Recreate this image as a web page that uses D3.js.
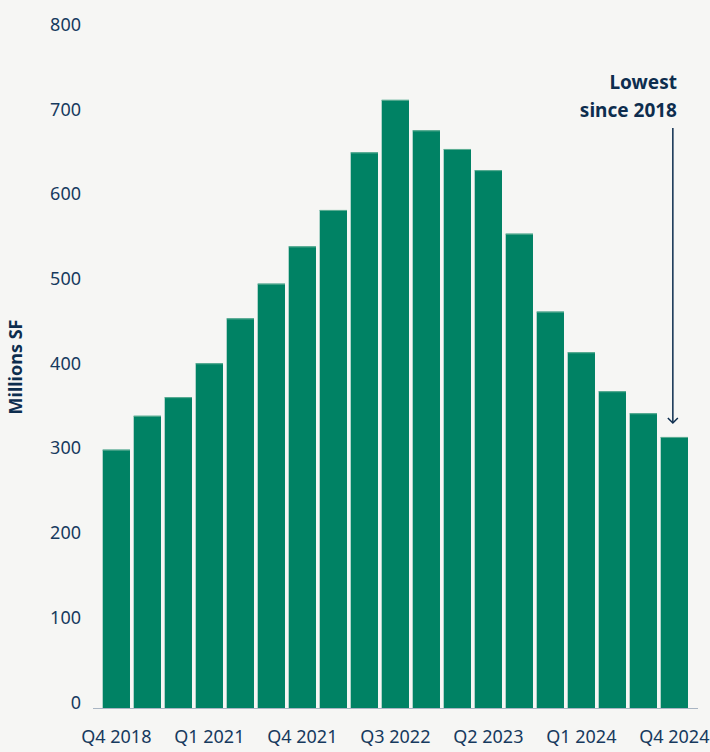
<!DOCTYPE html>
<html>
<head>
<meta charset="utf-8">
<script src="https://cdn.jsdelivr.net/npm/d3@7"></script>
<style>
  body { margin: 0; background: #f6f6f4; }
  svg { display: block; font-family: "Noto Sans", "Open Sans", sans-serif; }
</style>
</head>
<body>
<svg id="chart" width="710" height="752"></svg>
<script>
// quarters shown on the x axis (every bar), labels only every third one
const quarters = [
  "Q4 2018", "Q4 2019", "Q4 2020", "Q1 2021", "Q2 2021", "Q3 2021", "Q4 2021",
  "Q1 2022", "Q2 2022", "Q3 2022", "Q4 2022", "Q1 2023", "Q2 2023", "Q3 2023",
  "Q4 2023", "Q1 2024", "Q2 2024", "Q3 2024", "Q4 2024"
];
// millions of square feet
const values = [305, 345, 367, 407, 460, 501, 545, 588, 656, 718, 682, 660, 635, 560, 468, 420, 374, 348, 320];
const yTicks = [0, 100, 200, 300, 400, 500, 600, 700, 800];
const shownLabels = ["Q4 2018", "Q1 2021", "Q4 2021", "Q3 2022", "Q2 2023", "Q1 2024", "Q4 2024"];

const svg = d3.select("#chart");
const textColor = "#173a5e";
const barColor = "#008264";

// scales
const x = d3.scaleBand()
  .domain(quarters)
  .range([100.85, 689.85])
  .paddingInner(0.12)
  .paddingOuter(0.06);

const y = d3.scaleLinear()
  .domain([0, 800])
  .range([708, 30.4]);

// bars
svg.append("g")
  .selectAll("rect")
  .data(values)
  .join("rect")
  .attr("x", (d, i) => x(quarters[i]))
  .attr("y", d => y(d))
  .attr("width", x.bandwidth())
  .attr("height", d => y(0) - y(d))
  .attr("fill", barColor);

// thin lighter edge on top of each bar
svg.append("g")
  .selectAll("line")
  .data(values)
  .join("line")
  .attr("x1", (d, i) => x(quarters[i]))
  .attr("x2", (d, i) => x(quarters[i]) + x.bandwidth())
  .attr("y1", d => y(d) + 0.5)
  .attr("y2", d => y(d) + 0.5)
  .attr("stroke", "#5fae95")
  .attr("stroke-width", 1);

// y axis labels (no line, labels sit on the gridline value)
const yAxis = d3.axisLeft(y).tickValues(yTicks).tickSize(0).tickPadding(0);
const gy = svg.append("g")
  .attr("transform", "translate(81,0)")
  .call(yAxis);
gy.select(".domain").remove();
gy.selectAll("text")
  .attr("dy", 0)
  .attr("font-size", 18)
  .attr("font-family", "\"Noto Sans\", sans-serif")
  .attr("fill", textColor);

// x axis
const xAxis = d3.axisBottom(x)
  .tickValues(shownLabels)
  .tickSize(0)
  .tickPadding(0);
const gx = svg.append("g")
  .attr("transform", `translate(0,${y(0)})`)
  .call(xAxis);
gx.select(".domain").remove();
gx.selectAll("text")
  .attr("y", 35)
  .attr("dy", 0)
  .attr("font-size", 18)
  .attr("font-family", "\"Noto Sans\", sans-serif")
  .attr("fill", textColor);

// baseline
svg.append("line")
  .attr("x1", 93).attr("x2", 698)
  .attr("y1", y(0) + 0.5).attr("y2", y(0) + 0.5)
  .attr("stroke", "#a9b5c3")
  .attr("stroke-width", 1.2);

// y axis title
svg.append("text")
  .attr("transform", "translate(22,367) rotate(-90)")
  .attr("text-anchor", "middle")
  .attr("font-size", 18)
  .attr("font-weight", "bold")
  .attr("fill", "#0d2d4e")
  .text("Millions SF");

// annotation
const last = quarters[quarters.length - 1];
const ax = x(last) + x.bandwidth() / 2;
const ann = svg.append("g").attr("fill", "#0d2d4e");
ann.append("text")
  .attr("x", 677).attr("y", 89)
  .attr("text-anchor", "end")
  .attr("font-size", 19).attr("font-weight", "bold")
  .text("Lowest");
ann.append("text")
  .attr("x", 677).attr("y", 117)
  .attr("text-anchor", "end")
  .attr("font-size", 19).attr("font-weight", "bold")
  .text("since 2018");

const arrowBottom = y(values[values.length - 1]) - 14;
svg.append("line")
  .attr("x1", ax - 1.5).attr("x2", ax - 1.5)
  .attr("y1", 128).attr("y2", arrowBottom)
  .attr("stroke", "#0d2d4e")
  .attr("stroke-width", 1.5);
svg.append("path")
  .attr("d", `M${ax - 6.5},${arrowBottom - 5} L${ax - 1.5},${arrowBottom} L${ax + 3.5},${arrowBottom - 5}`)
  .attr("fill", "none")
  .attr("stroke", "#0d2d4e")
  .attr("stroke-width", 1.5);
</script>
</body>
</html>
